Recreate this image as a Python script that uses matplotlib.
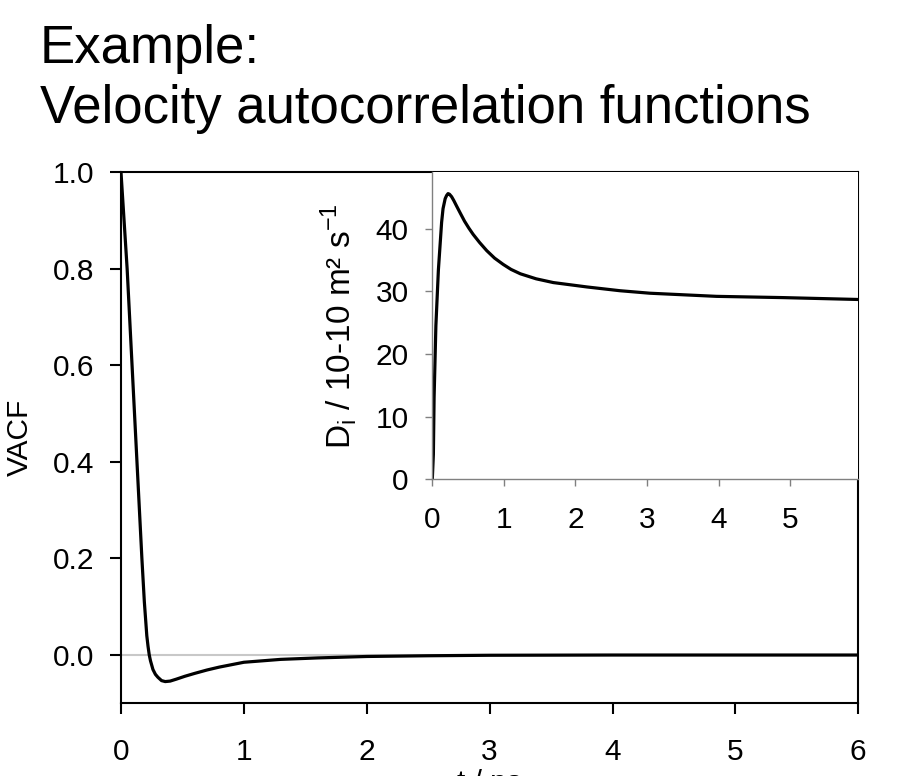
import numpy as np
from matplotlib import pyplot as plt

plt.rcParams['font.family'] = ['Liberation Sans', 'DejaVu Sans']
plt.rcParams['mathtext.fontset'] = 'custom'
plt.rcParams['mathtext.rm'] = 'Liberation Sans'

# velocity autocorrelation function, normalised
t_vacf = [0.0, 0.05, 0.09, 0.13, 0.17, 0.19, 0.21, 0.22, 0.23, 0.24, 0.26, 0.28, 0.30,
          0.33, 0.36, 0.40, 0.45, 0.52, 0.6, 0.7, 0.8, 0.9, 1.0, 1.15, 1.3, 1.6, 2.0,
          2.5, 3.0, 4.0, 5.0, 6.0]
vacf = [1.0, 0.80, 0.60, 0.40, 0.20, 0.11, 0.04, 0.018, 0.0, -0.012, -0.030, -0.040, -0.046,
        -0.053, -0.055, -0.054, -0.050, -0.044, -0.038, -0.031, -0.025, -0.020, -0.015, -0.012,
        -0.009, -0.006, -0.003, -0.0015, -0.0005, 0.0, 0.0, 0.0]

# running diffusion coefficient from the integral of the VACF
t_diff = [0.0, 0.015, 0.025, 0.05, 0.085, 0.13, 0.15, 0.18, 0.20, 0.22, 0.24, 0.27, 0.30,
          0.34, 0.39, 0.45, 0.51, 0.57, 0.66, 0.76, 0.87, 0.99, 1.1, 1.23, 1.45, 1.69,
          2.16, 2.62, 3.04, 3.97, 4.90, 5.95]
diff = [0.0, 4.0, 13.0, 24.5, 33.4, 41.0, 43.2, 44.8, 45.3, 45.6, 45.5, 45.1, 44.5,
        43.6, 42.5, 41.2, 40.1, 39.1, 37.8, 36.5, 35.3, 34.3, 33.5, 32.8, 32.0, 31.4,
        30.7, 30.1, 29.7, 29.2, 29.0, 28.7]

W, H = 916, 776
fig = plt.figure(figsize=(W / 100, H / 100), dpi=100)

fig.text(40 / W, 1 - 63 / H, 'Example:', fontsize=38, va='baseline', ha='left')
fig.text(40 / W, 1 - 123 / H, 'Velocity autocorrelation functions', fontsize=38,
         va='baseline', ha='left')

# main plot
ax = fig.add_axes([121 / W, 1 - 703.3 / H, (858.3 - 121) / W, (703.3 - 172.3) / H])
ax.axhline(0, color='#c8c8c8', lw=1.5, zorder=1)
ax.plot(t_vacf, vacf, color='black', lw=2.3, zorder=2)
ax.set_xlim(0, 6)
ax.set_ylim(-0.1, 1.0)
ax.set_xticks(range(7))
ax.set_yticks(np.arange(0, 1.01, 0.2))
ax.yaxis.set_major_formatter(plt.FormatStrFormatter('%.1f'))
for s in ax.spines.values():
    s.set_linewidth(1.5)
ax.tick_params(direction='out', length=8, width=1.5, labelsize=21.5)
ax.tick_params(axis='x', pad=17)
ax.tick_params(axis='y', pad=11)
ax.set_xlabel('t / ps', fontsize=21.5, labelpad=2)
ax.set_ylabel('VACF', fontsize=21.5, labelpad=14)

# inset with the diffusion coefficient
ins = fig.add_axes([432.3 / W, 1 - 479.3 / H, (858.3 - 432.3) / W, (479.3 - 172.3) / H])
ins.plot(t_diff, diff, color='black', lw=2.3)
ins.set_xlim(0, 5.95)
ins.set_ylim(0, 49)
ins.set_xticks(range(6))
ins.set_yticks(range(0, 41, 10))
ins.spines['top'].set_visible(False)
ins.spines['right'].set_visible(False)
for side in ['left', 'bottom']:
    ins.spines[side].set_color('#808080')
    ins.spines[side].set_linewidth(1.0)
ins.tick_params(direction='out', length=5, width=1.0, color='#808080', labelsize=21.5)
ins.tick_params(axis='x', pad=14)
ins.tick_params(axis='y', pad=12)
ins.set_ylabel(r'D$_\mathregular{i}$ / 10-10 m² s$^\mathregular{-1}$', fontsize=24,
               labelpad=12)

fig.savefig('out.png', dpi=100)
